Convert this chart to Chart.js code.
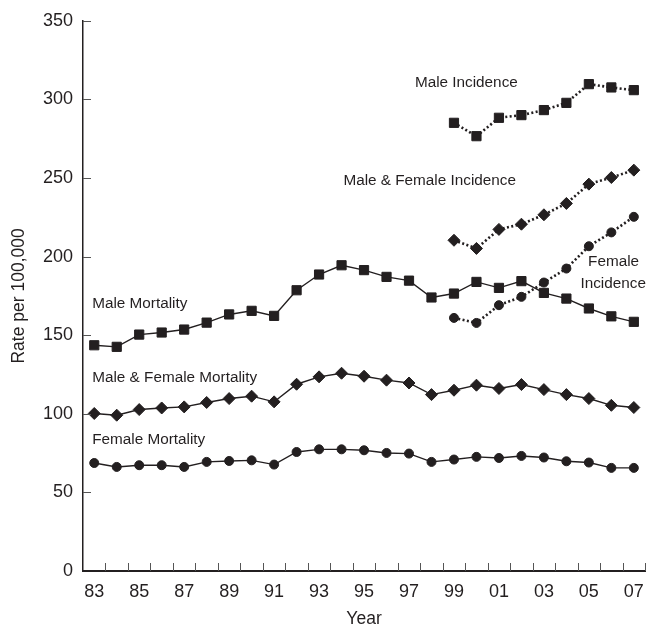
<!DOCTYPE html>
<html>
<head>
<meta charset="utf-8">
<script src="https://cdn.jsdelivr.net/npm/chart.js@4.4.1/dist/chart.umd.min.js"></script>
<style>
  html, body { margin: 0; padding: 0; background: #fff; }
  canvas { display: block; }
</style>
</head>
<body>
<canvas id="myChart" width="654" height="630"></canvas>
<script>
// years 1983 - 2007
const years = ['83','84','85','86','87','88','89','90','91','92','93','94','95','96','97','98','99','00','01','02','03','04','05','06','07']
const incidenceYears = ['99','00','01','02','03','04','05','06','07']

const maleMortality = [143.6,142.6,150.4,151.7,153.6,158,163.2,165.5,162.3,178.6,188.6,194.5,191.4,187.1,184.7,174,176.5,183.9,180.1,184.4,176.9,173.3,167,162,158.5]
const bothMortality = [100.2,99.1,102.7,103.7,104.4,107.2,109.7,111.2,107.6,118.8,123.5,125.8,123.9,121.4,119.6,112.2,115,118.2,116.1,118.6,115.4,112.2,109.7,105.4,104]
const femaleMortality = [68.7,66.2,67.3,67.3,66.2,69.4,70,70.4,67.7,75.7,77.4,77.4,76.8,75.1,74.7,69.4,70.9,72.6,71.9,73.2,72.2,69.8,69,65.6,65.6]

const maleIncidence = [285.1,276.6,288.3,290,293.2,297.8,309.7,307.6,305.9]
const bothIncidence = [210.4,205.2,217.3,220.6,226.6,233.8,246.1,250.3,255]
const femaleIncidence = [161,157.8,169.1,174.4,183.5,192.4,206.6,215.4,225.3]

// texts written next to the lines (x = category index, y = rate)
const notas = [
  {text: 'Male Incidence', x: 16.55, y: 310.4, align: 'center'},
  {text: 'Male & Female Incidence', x: 14.92, y: 248, align: 'center'},
  {text: 'Female', x: 23.1, y: 197, align: 'center'},
  {text: 'Incidence', x: 23.08, y: 183, align: 'center'},
  {text: 'Male Mortality', x: -0.09, y: 169.7, align: 'left'},
  {text: 'Male & Female Mortality', x: -0.09, y: 122.6, align: 'left'},
  {text: 'Female Mortality', x: -0.09, y: 83.7, align: 'left'}
]

const tinta = '#231f20'
const fuente = "'Liberation Sans', Arial, sans-serif"

function serie(valores, etiquetas){
  return valores.map((v, i) => ({x: etiquetas[i], y: v}))
}

function linea(label, data, estilo, radio, punteada){
  return {
    label: label,
    data: data,
    borderColor: tinta,
    backgroundColor: tinta,
    borderWidth: punteada ? 2.6 : 1.4,
    borderDash: punteada ? [2, 2.4] : [],
    pointStyle: estilo,
    pointRadius: radio,
    pointBorderWidth: 1,
    pointBorderColor: tinta,
    pointBackgroundColor: tinta,
    tension: 0,
    fill: false
  }
}

// small ticks pointing inside the plot + the texts
const extras = {
  id: 'extras',
  afterDraw(chart){
    const ctx = chart.ctx
    const xs = chart.scales.x
    const ys = chart.scales.y
    const area = chart.chartArea
    ctx.save()
    ctx.strokeStyle = '#555'
    ctx.lineWidth = 1
    const paso = xs.getPixelForValue(1) - xs.getPixelForValue(0)
    for (let i = 0; i < years.length; i++) {
      const px = Math.round(xs.getPixelForValue(i) + paso / 2) + 0.5
      ctx.beginPath()
      ctx.moveTo(px, area.bottom)
      ctx.lineTo(px, area.bottom - 8)
      ctx.stroke()
    }
    ys.ticks.forEach((t, i) => {
      if (t.value === 0) return
      const py = Math.round(ys.getPixelForTick(i)) + 0.5
      ctx.beginPath()
      ctx.moveTo(area.left, py)
      ctx.lineTo(area.left + 8, py)
      ctx.stroke()
    })
    ctx.fillStyle = tinta
    ctx.font = '15.3px ' + fuente
    ctx.textBaseline = 'middle'
    notas.forEach((n) => {
      ctx.textAlign = n.align
      ctx.fillText(n.text, xs.getPixelForValue(n.x), ys.getPixelForValue(n.y))
    })
    ctx.restore()
  }
}

const ctx = document.getElementById('myChart')

const mychart = new Chart(ctx, {
  type: 'line',
  data: {
    labels: years,
    datasets: [
      linea('Male Mortality', serie(maleMortality, years), 'rect', 6.5, false),
      linea('Male & Female Mortality', serie(bothMortality, years), 'rectRot', 6, false),
      linea('Female Mortality', serie(femaleMortality, years), 'circle', 4.5, false),
      linea('Male Incidence', serie(maleIncidence, incidenceYears), 'rect', 6.5, true),
      linea('Male & Female Incidence', serie(bothIncidence, incidenceYears), 'rectRot', 6, true),
      linea('Female Incidence', serie(femaleIncidence, incidenceYears), 'circle', 4.5, true)
    ]
  },
  options: {
    responsive: false,
    animation: false,
    layout: { padding: { top: 20, right: 4, left: 0, bottom: 0 } },
    plugins: { legend: { display: false }, tooltip: { enabled: false } },
    scales: {
      x: {
        type: 'category',
        offset: true,
        afterFit(scale){ scale.height = 59 },
        grid: { display: true, drawOnChartArea: false, drawTicks: false, offset: true },
        border: { display: true, color: tinta, width: 2 },
        ticks: {
          autoSkip: false,
          maxRotation: 0,
          padding: 10,
          color: tinta,
          font: { family: fuente, size: 18 },
          callback: function(v, i){ return i % 2 === 0 ? this.getLabelForValue(v) : '' }
        },
        title: {
          display: true,
          text: 'Year',
          color: tinta,
          font: { family: fuente, size: 17.5 },
          padding: { top: 0, bottom: 0 }
        }
      },
      y: {
        min: 0,
        max: 350,
        afterFit(scale){ scale.width = 83 },
        grid: { display: true, drawOnChartArea: false, drawTicks: false },
        border: { display: true, color: tinta, width: 1.5 },
        ticks: {
          stepSize: 50,
          padding: 10,
          color: tinta,
          font: { family: fuente, size: 18 }
        },
        title: {
          display: true,
          text: 'Rate per 100,000',
          color: tinta,
          font: { family: fuente, size: 17.5 },
          padding: { top: 9, bottom: 0 }
        }
      }
    }
  },
  plugins: [extras]
})
</script>
</body>
</html>
